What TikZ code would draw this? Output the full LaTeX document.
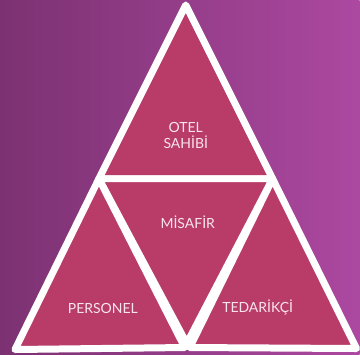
\documentclass[tikz,border=0pt]{standalone}
\usepackage{fontspec}
\setmainfont{Lato}
\definecolor{bgleft}{RGB}{124,50,114}
\definecolor{bgright}{RGB}{172,72,160}
\definecolor{tripink}{RGB}{185,60,104}
\definecolor{labelpink}{RGB}{248,228,238}
\begin{document}
\begin{tikzpicture}[x=1pt, y=-1pt, line join=round,
                    tri/.style={fill=tripink,draw=white,line width=7pt},
                    main node/.style={text=labelpink,font=\fontsize{14}{16}\selectfont,align=center}]

\shade[left color=bgleft, right color=bgright] (0,0) rectangle (360,355);

\coordinate (top) at (186,5);
\coordinate (topl) at (99,179);
\coordinate (topr) at (273,179);
\coordinate (midb) at (187,344);
\coordinate (left) at (15,350);
\coordinate (right) at (357,349);
\coordinate (botl) at (185,348);
\coordinate (botr) at (190,348);

\draw[tri] (top) -- (topr) -- (topl) -- cycle;
\draw[tri] (topl) -- (topr) -- (midb) -- cycle;
\draw[tri] (topl) -- (botl) -- (left) -- cycle;
\draw[tri] (topr) -- (right) -- (botr) -- cycle;

\node[main node] (otel) at (186,136) {OTEL\\SAHİBİ};
\node[main node] (misafir) at (188,223) {MİSAFİR};
\node[main node] (personel) at (103,309) {PERSONEL};
\node[main node] (tedarikci) at (258,308) {TEDARİKÇİ};

\end{tikzpicture}
\end{document}
